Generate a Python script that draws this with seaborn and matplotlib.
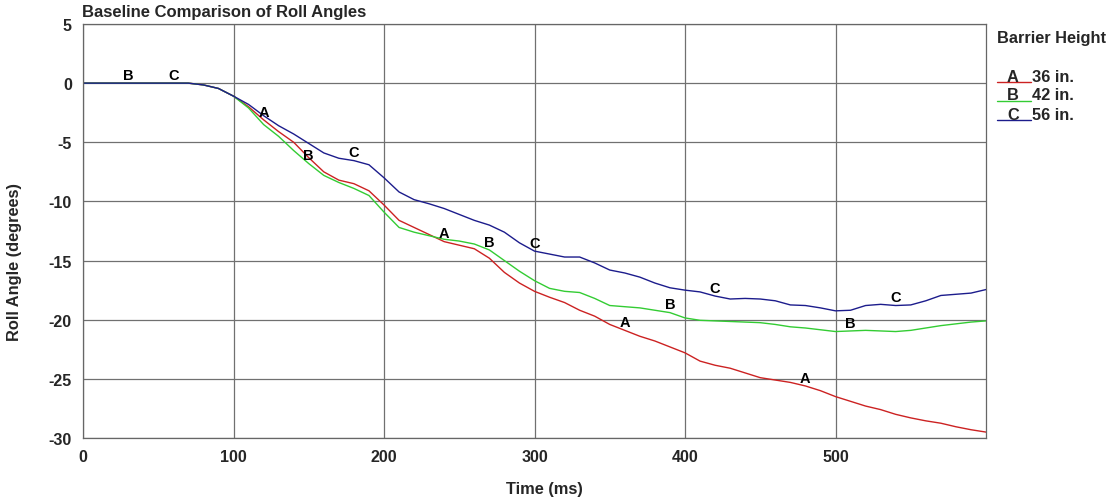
import numpy as np
import pandas as pd
import matplotlib
matplotlib.use("Agg")
import matplotlib.pyplot as plt
from matplotlib.lines import Line2D
from matplotlib.ticker import MultipleLocator, FixedLocator
import seaborn as sns

# time axis (ms)
time_ms = list(range(0, 601, 10))

# roll angle (degrees) per barrier height
roll_a = [0, 0, 0, 0, 0, 0, 0, 0, -0.15, -0.45,
          -1.1, -2.0, -3.1, -4.1, -5.0, -6.3, -7.5, -8.2, -8.5, -9.1,
          -10.3, -11.6, -12.2, -12.8, -13.4, -13.7, -14.0, -14.8, -16.0, -16.9,
          -17.6, -18.1, -18.55, -19.2, -19.7, -20.4, -20.9, -21.4, -21.8, -22.3,
          -22.8, -23.5, -23.85, -24.1, -24.5, -24.9, -25.1, -25.3, -25.6, -26.0,
          -26.5, -26.9, -27.3, -27.6, -28.0, -28.3, -28.55, -28.75, -29.05, -29.3,
          -29.5]
roll_b = [0, 0, 0, 0, 0, 0, 0, 0, -0.15, -0.45,
          -1.1, -2.1, -3.5, -4.5, -5.7, -6.8, -7.8, -8.4, -8.9, -9.5,
          -10.9, -12.2, -12.6, -12.9, -13.2, -13.35, -13.6, -14.1, -15.0, -15.9,
          -16.7, -17.35, -17.6, -17.7, -18.2, -18.8, -18.9, -19.0, -19.2, -19.4,
          -19.85, -20.05, -20.1, -20.15, -20.2, -20.25, -20.4, -20.6, -20.7, -20.85,
          -21.0, -20.95, -20.9, -20.95, -21.0, -20.9, -20.7, -20.5, -20.35, -20.2,
          -20.1]
roll_c = [0, 0, 0, 0, 0, 0, 0, 0, -0.15, -0.45,
          -1.1, -1.8, -2.75, -3.6, -4.3, -5.1, -5.9, -6.35, -6.55, -6.9,
          -8.0, -9.2, -9.85, -10.2, -10.6, -11.1, -11.6, -12.0, -12.6, -13.5,
          -14.2, -14.45, -14.7, -14.7, -15.2, -15.8, -16.05, -16.4, -16.9, -17.3,
          -17.5, -17.65, -18.0, -18.25, -18.2, -18.25, -18.4, -18.75, -18.8, -19.0,
          -19.25, -19.2, -18.8, -18.7, -18.8, -18.75, -18.4, -17.95, -17.85, -17.75,
          -17.45]

series_keys = ["A", "B", "C"]
series_labels = ["36 in.", "42 in.", "56 in."]
colors = ["#cc2222", "#33cc33", "#1c1c8c"]

# where the curve letters sit along each line
label_times = {"A": [120, 240, 360, 480],
               "B": [30, 150, 270, 390, 510],
               "C": [60, 180, 300, 420, 540]}

xticks = [0, 100, 200, 300, 400, 500]
yticks = [5, 0, -5, -10, -15, -20, -25, -30]

df = pd.DataFrame({
    "Time (ms)": time_ms * 3,
    "Roll Angle (degrees)": roll_a + roll_b + roll_c,
    "series": ["A"] * len(time_ms) + ["B"] * len(time_ms) + ["C"] * len(time_ms),
})

sns.set_style("white")
plt.rcParams["font.family"] = ["Liberation Sans", "DejaVu Sans"]
plt.rcParams["font.weight"] = "bold"

fig = plt.figure(figsize=(11.11, 5.02), dpi=100)
ax = fig.add_axes([83 / 1111, 63 / 502, 903 / 1111, 414 / 502])

sns.lineplot(data=df, x="Time (ms)", y="Roll Angle (degrees)", hue="series",
             palette=dict(zip(series_keys, colors)), linewidth=1.0,
             legend=False, ax=ax)

# letters on the curves
curves = {"A": roll_a, "B": roll_b, "C": roll_c}
for key, times in label_times.items():
    for t in times:
        yv = np.interp(t, time_ms, curves[key])
        ax.text(t, yv + 0.1, key, ha="center", va="bottom", fontsize=10.5,
                fontweight="bold", color="black", zorder=5)

ax.set_xlim(0, 600)
ax.set_ylim(-30, 5)
ax.xaxis.set_major_locator(FixedLocator(xticks))
ax.xaxis.set_minor_locator(FixedLocator([50, 150, 250, 350, 450, 550]))
ax.yaxis.set_major_locator(FixedLocator(yticks))
ax.yaxis.set_minor_locator(MultipleLocator(2.5))
ax.set_xticklabels([str(v) for v in xticks], fontsize=11.5, fontweight="bold")
ax.set_yticklabels([str(v) for v in yticks], fontsize=11.5, fontweight="bold")

ax.grid(True, which="major", color="#707070", linewidth=0.9)
ax.tick_params(which="major", direction="out", length=6, width=0.9,
               color="#555555", pad=2)
ax.tick_params(which="minor", direction="in", length=6, width=0.9,
               color="#555555")
for sp in ax.spines.values():
    sp.set_color("#666666")
    sp.set_linewidth(0.9)
ax.set_xlabel("")
ax.set_ylabel("")

fig.text(82 / 1111, 1 - 13 / 502, "Baseline Comparison of Roll Angles",
         fontsize=12, fontweight="bold", ha="left", va="center")
fig.text(544 / 1111, 1 - 490 / 502, "Time (ms)", fontsize=11.8,
         fontweight="bold", ha="center", va="center")
fig.text(15 / 1111, 1 - 262 / 502, "Roll Angle (degrees)", fontsize=11.8,
         fontweight="bold", ha="center", va="center", rotation=90)

# legend drawn by hand: letter underlined in series colour
fig.text(997 / 1111, 1 - 38 / 502, "Barrier Height", fontsize=11.8,
         fontweight="bold", ha="left", va="center")
for i, (key, lab, col) in enumerate(zip(series_keys, series_labels, colors)):
    ty = 77 + i * 19
    ly = ty + 6
    fig.add_artist(Line2D([997 / 1111, 1031 / 1111], [1 - ly / 502, 1 - ly / 502],
                          transform=fig.transFigure, color=col, linewidth=1.0))
    fig.text(1013 / 1111, 1 - ty / 502, key, fontsize=11.8, fontweight="bold",
             ha="center", va="center")
    fig.text(1032 / 1111, 1 - ty / 502, lab, fontsize=11.8, fontweight="bold",
             ha="left", va="center")

fig.savefig("out.png", dpi=100)
